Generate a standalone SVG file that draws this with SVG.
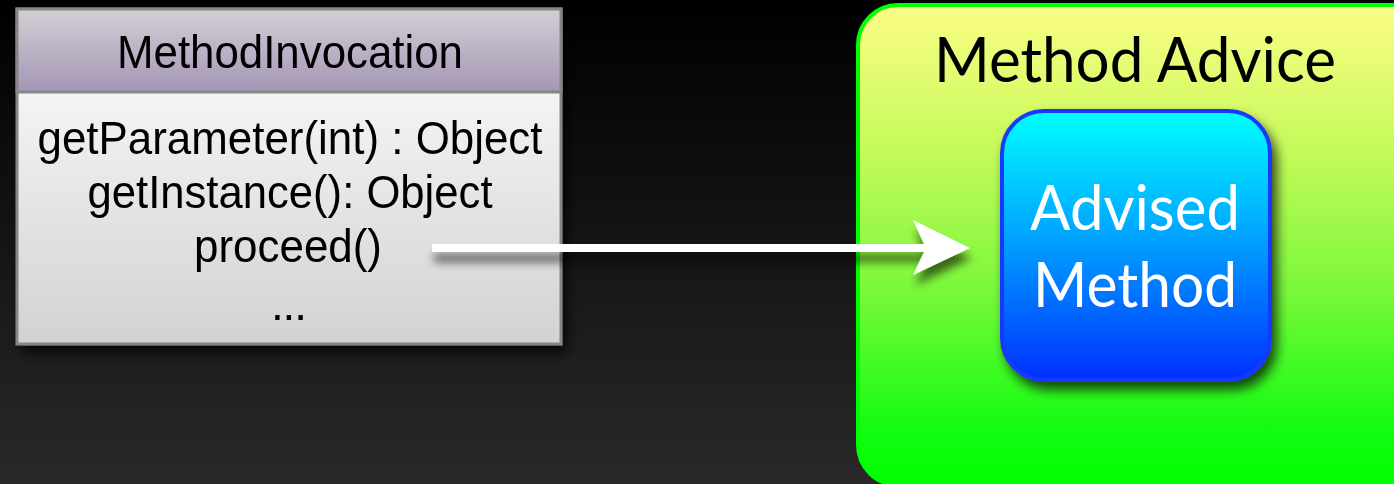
<svg xmlns="http://www.w3.org/2000/svg" width="1394" height="484" viewBox="0 0 1394 484">
  <defs>
    <linearGradient id="bg" x1="0" y1="0" x2="0" y2="1">
      <stop offset="0" stop-color="#000000"/>
      <stop offset="1" stop-color="#292929"/>
    </linearGradient>
    <linearGradient id="umlHead" x1="0" y1="0" x2="0" y2="1">
      <stop offset="0" stop-color="#d2cfd5"/>
      <stop offset="1" stop-color="#a596b5"/>
    </linearGradient>
    <linearGradient id="umlBody" x1="0" y1="0" x2="0" y2="1">
      <stop offset="0" stop-color="#ffffff"/>
      <stop offset="1" stop-color="#d2d2d2"/>
    </linearGradient>
    <linearGradient id="adviceFill" x1="0" y1="0" x2="0" y2="1">
      <stop offset="0" stop-color="#fcfd86"/>
      <stop offset="0.3" stop-color="#c6fa5a"/>
      <stop offset="0.6" stop-color="#78f83a"/>
      <stop offset="0.88" stop-color="#14fc12"/>
      <stop offset="1" stop-color="#00ff00"/>
    </linearGradient>
    <linearGradient id="methodFill" x1="0" y1="0" x2="0" y2="1">
      <stop offset="0" stop-color="#00ffff"/>
      <stop offset="0.5" stop-color="#009cff"/>
      <stop offset="1" stop-color="#0030ff"/>
    </linearGradient>
    <filter id="shadow" x="-20%" y="-20%" width="150%" height="150%">
      <feGaussianBlur in="SourceAlpha" stdDeviation="6"/>
      <feOffset dx="5" dy="8" result="b"/>
      <feComponentTransfer><feFuncA type="linear" slope="0.7"/></feComponentTransfer>
      <feMerge><feMergeNode/><feMergeNode in="SourceGraphic"/></feMerge>
    </filter>
    <filter id="arrowShadow" x="-10%" y="-100%" width="120%" height="400%">
      <feGaussianBlur in="SourceAlpha" stdDeviation="5"/>
      <feOffset dx="2" dy="10" result="b"/>
      <feComponentTransfer><feFuncA type="linear" slope="0.6"/></feComponentTransfer>
      <feMerge><feMergeNode/><feMergeNode in="SourceGraphic"/></feMerge>
    </filter>
    <style>
      .uml { font-family: "Liberation Sans", Arial, sans-serif; font-size: 46px; fill: #000; text-anchor: middle; }
      .gill { font-family: Lato, "Open Sans", sans-serif; text-anchor: middle; }
    </style>
  </defs>

  <rect x="0" y="0" width="1394" height="484" fill="url(#bg)"/>

  <!-- UML class box -->
  <g id="method-invocation" filter="url(#shadow)">
    <rect x="17" y="9" width="544" height="335" fill="url(#umlBody)" stroke="#868686" stroke-width="3"/>
    <rect x="17" y="9" width="544" height="83" fill="url(#umlHead)" stroke="#868686" stroke-width="3"/>
    <text class="uml" x="290" y="68" textLength="346" lengthAdjust="spacingAndGlyphs">MethodInvocation</text>
    <text class="uml" x="290" y="154" textLength="505" lengthAdjust="spacingAndGlyphs">getParameter(int) : Object</text>
    <text class="uml" x="290" y="208" textLength="405" lengthAdjust="spacingAndGlyphs">getInstance(): Object</text>
    <text class="uml" x="288" y="262" textLength="188" lengthAdjust="spacingAndGlyphs">proceed()</text>
    <text class="uml" x="289" y="320" textLength="36" lengthAdjust="spacing">...</text>
  </g>

  <!-- Advice container -->
  <g id="method-advice">
    <rect x="858" y="5" width="580" height="480" rx="40" ry="40" fill="url(#adviceFill)" stroke="#00ff00" stroke-width="4"/>
    <text class="gill" x="1135" y="82" font-size="62" fill="#000" textLength="402" lengthAdjust="spacingAndGlyphs">Method Advice</text>
  </g>

  <!-- Advised method -->
  <g id="advised-method">
    <rect x="1002" y="111" width="268" height="269" rx="42" ry="42" fill="url(#methodFill)" stroke="#1538ff" stroke-width="4" filter="url(#shadow)"/>
    <text class="gill" x="1135" y="230" font-size="62" fill="#ffffff" textLength="210" lengthAdjust="spacingAndGlyphs">Advised</text>
    <text class="gill" x="1135" y="307" font-size="62" fill="#ffffff" textLength="204" lengthAdjust="spacingAndGlyphs">Method</text>
  </g>

  <!-- connectors -->
  <g id="connectors" filter="url(#arrowShadow)">
    <path d="M432 244 L924 244 L913 220 L970 248 L913 275 L924 252 L432 252 Z" fill="#ffffff"/>
  </g>
</svg>
